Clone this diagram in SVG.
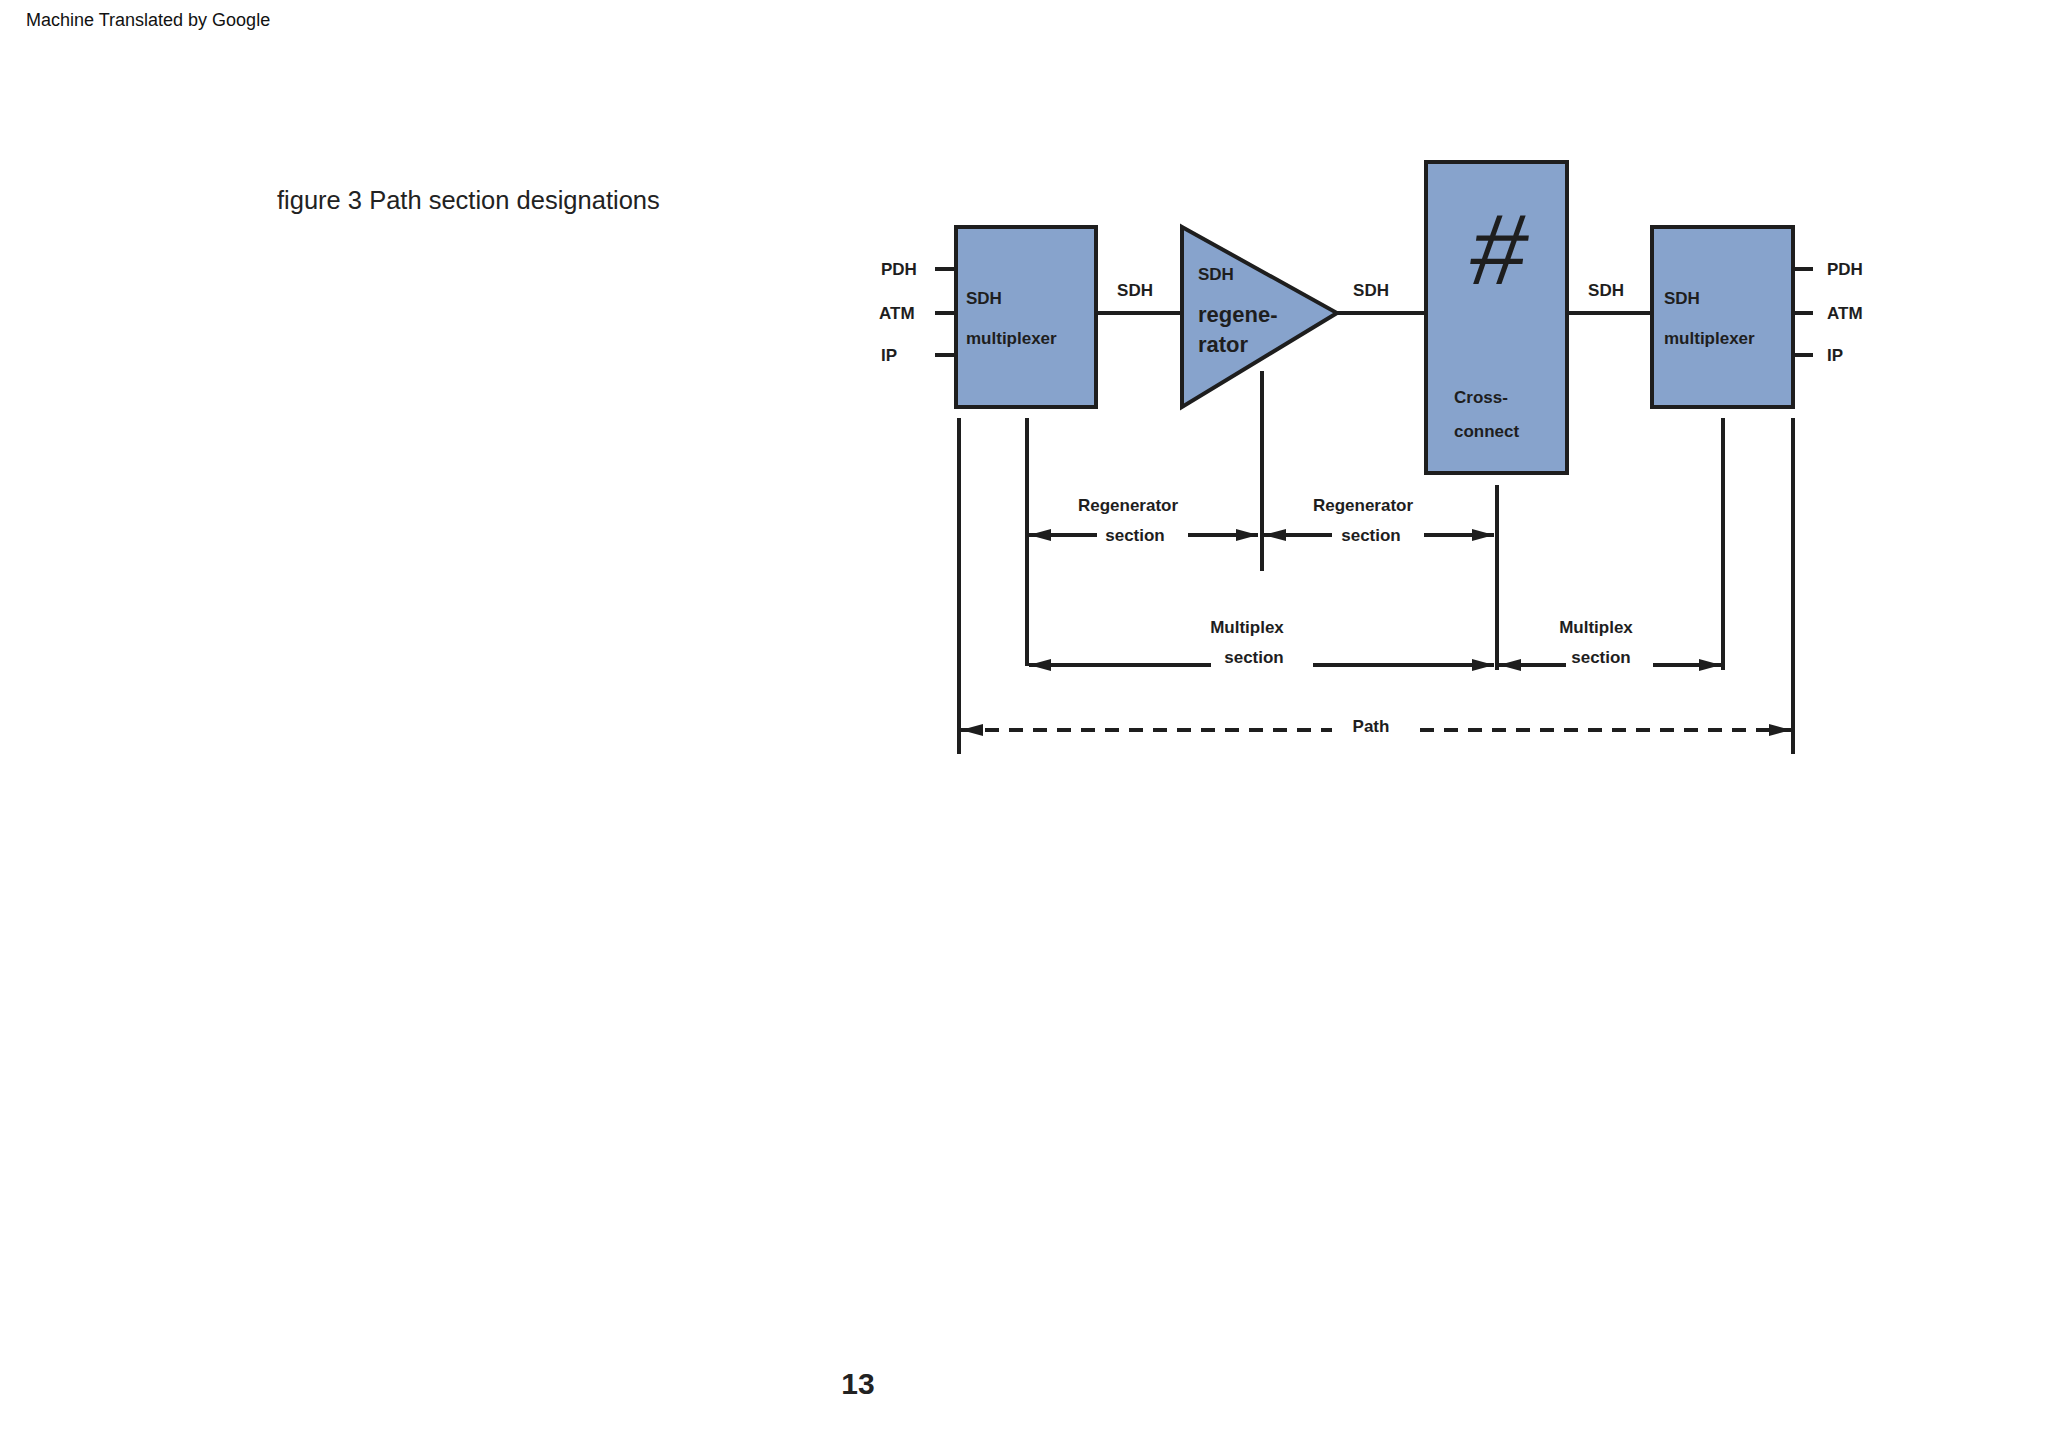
<svg xmlns="http://www.w3.org/2000/svg" width="2048" height="1452" viewBox="0 0 2048 1452">
<style>
.b{fill:#87a3cc;stroke:#1e1e1e;stroke-width:4}
.l{stroke:#1e1e1e;stroke-width:4;fill:none}
.t{font-family:"Liberation Sans",Arial,sans-serif;font-weight:bold;font-size:17px;fill:#1e1e1e}
.c{text-anchor:middle}
</style>
<defs>
<marker id="ae" markerUnits="userSpaceOnUse" markerWidth="24" markerHeight="16" refX="22" refY="8" orient="auto"><path d="M0,2 L22,8 L0,14 Z" fill="#1e1e1e"/></marker>
<marker id="as" markerUnits="userSpaceOnUse" markerWidth="24" markerHeight="16" refX="0" refY="8" orient="auto"><path d="M22,2 L0,8 L22,14 Z" fill="#1e1e1e"/></marker>
</defs>
<rect width="2048" height="1452" fill="#fff"/>
<text x="26" y="26" font-family="Liberation Sans,Arial,sans-serif" font-size="18" fill="#111">Machine Translated by Google</text>
<text x="277" y="209" font-family="Liberation Sans,Arial,sans-serif" font-size="25.5" fill="#222">figure 3 Path section designations</text>
<text x="858" y="1394" class="c" font-family="Liberation Sans,Arial,sans-serif" font-weight="bold" font-size="30" fill="#222">13</text>
<g id="connectors">
<path class="l" d="M935,269H956M935,313H956M935,355H956M1793,269H1813M1793,313H1813M1793,355H1813"/>
<path class="l" d="M1096,313H1182M1337,313H1426M1567,313H1652"/>
<path class="l" d="M959,418V754M1027,418V666M1262,371V571M1497,485V670M1723,418V670M1793,418V754"/>
<path class="l" d="M1029,535H1097" marker-start="url(#as)"/>
<path class="l" d="M1188,535H1258" marker-end="url(#ae)"/>
<path class="l" d="M1264,535H1332" marker-start="url(#as)"/>
<path class="l" d="M1424,535H1494" marker-end="url(#ae)"/>
<path class="l" d="M1029,665H1211" marker-start="url(#as)"/>
<path class="l" d="M1313,665H1494" marker-end="url(#ae)"/>
<path class="l" d="M1499,665H1566" marker-start="url(#as)"/>
<path class="l" d="M1653,665H1721" marker-end="url(#ae)"/>
<path class="l" d="M961,730H1332" stroke-dasharray="14,10" marker-start="url(#as)"/>
<path class="l" d="M1420,730H1791" stroke-dasharray="14,10" marker-end="url(#ae)"/>
<text class="t" x="881" y="275">PDH</text>
<text class="t" x="879" y="319">ATM</text>
<text class="t" x="881" y="361">IP</text>
<text class="t" x="1827" y="275">PDH</text>
<text class="t" x="1827" y="319">ATM</text>
<text class="t" x="1827" y="361">IP</text>
<text class="t c" x="1135" y="296">SDH</text>
<text class="t c" x="1371" y="296">SDH</text>
<text class="t c" x="1606" y="296">SDH</text>
<text class="t c" x="1128" y="511">Regenerator</text>
<text class="t c" x="1135" y="541">section</text>
<text class="t c" x="1363" y="511">Regenerator</text>
<text class="t c" x="1371" y="541">section</text>
<text class="t c" x="1247" y="633">Multiplex</text>
<text class="t c" x="1254" y="663">section</text>
<text class="t c" x="1596" y="633">Multiplex</text>
<text class="t c" x="1601" y="663">section</text>
<text class="t c" x="1371" y="732">Path</text>
</g>
<g id="mux1"><rect class="b" x="956" y="227" width="140" height="180"/><text class="t" x="966" y="304">SDH</text><text class="t" x="966" y="344">multiplexer</text></g>
<g id="regen"><path class="b" d="M1182,227 L1337,313 L1182,407 Z"/><text class="t" x="1198" y="280">SDH</text><text class="t" x="1198" y="322" style="font-size:22px">regene-</text><text class="t" x="1198" y="352" style="font-size:22px">rator</text></g>
<g id="xc"><rect class="b" x="1426" y="162" width="141" height="311"/><text x="1498" y="284" class="c" font-family="Liberation Sans,Arial,sans-serif" font-style="italic" font-size="100" fill="#1e1e1e" transform="translate(1498,250) skewX(-8) translate(-1498,-250)">#</text><text class="t" x="1454" y="403">Cross-</text><text class="t" x="1454" y="437">connect</text></g>
<g id="mux2"><rect class="b" x="1652" y="227" width="141" height="180"/><text class="t" x="1664" y="304">SDH</text><text class="t" x="1664" y="344">multiplexer</text></g>
</svg>
